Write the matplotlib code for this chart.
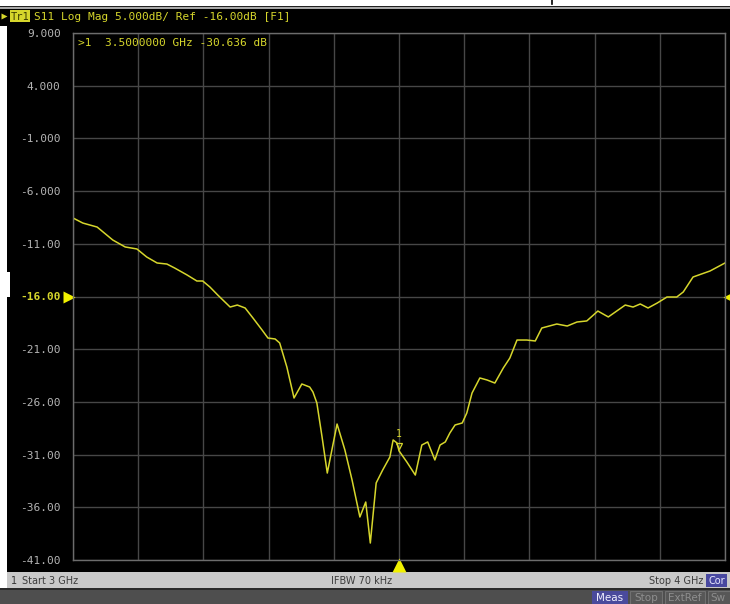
import matplotlib
matplotlib.use("Agg")
import matplotlib.pyplot as plt
import matplotlib.transforms as mtransforms
from matplotlib.patches import Rectangle
import numpy as np

# S11 trace (GHz, dB)
freq_ghz = [3.000, 3.015, 3.037, 3.061, 3.080, 3.098, 3.113, 3.129, 3.144, 3.156,
            3.175, 3.190, 3.199, 3.210, 3.222, 3.241, 3.252, 3.264, 3.276, 3.290,
            3.299, 3.310, 3.317, 3.328, 3.339, 3.351, 3.363, 3.368, 3.374, 3.382,
            3.390, 3.405, 3.417, 3.428, 3.440, 3.449, 3.456, 3.465, 3.475, 3.486,
            3.491, 3.497, 3.500, 3.512, 3.525, 3.535, 3.544, 3.555, 3.563, 3.571,
            3.578, 3.586, 3.597, 3.604, 3.612, 3.624, 3.635, 3.647, 3.660, 3.670,
            3.681, 3.696, 3.709, 3.719, 3.742, 3.758, 3.773, 3.788, 3.805, 3.821,
            3.847, 3.859, 3.870, 3.882, 3.896, 3.911, 3.926, 3.936, 3.951, 3.977,
            4.000]
s11_db = [-8.55, -9.03, -9.41, -10.64, -11.30, -11.49, -12.25, -12.82, -12.92, -13.30,
          -13.96, -14.53, -14.53, -15.10, -15.86, -17.00, -16.81, -17.09, -18.04, -19.18,
          -19.94, -20.03, -20.41, -22.69, -25.63, -24.30, -24.59, -25.06, -26.10, -29.33,
          -32.75, -28.10, -30.56, -33.41, -36.92, -35.50, -39.39, -33.69, -32.46, -31.23,
          -29.61, -29.90, -30.64, -31.70, -32.94, -30.09, -29.80, -31.51, -30.09, -29.80,
          -28.95, -28.19, -28.00, -27.05, -25.16, -23.73, -23.92, -24.21, -22.78, -21.84,
          -20.13, -20.13, -20.22, -18.99, -18.61, -18.80, -18.42, -18.32, -17.38, -17.94,
          -16.81, -17.00, -16.71, -17.09, -16.62, -16.05, -16.05, -15.57, -14.15, -13.58,
          -12.82]

start_ghz = 3
stop_ghz = 4
ref_level = -16.0
scale_db = 5.0
y_ticks = [9, 4, -1, -6, -11, -16, -21, -26, -31, -36, -41]
y_labels = ["9.000", "4.000", "-1.000", "-6.000", "-11.00", "-16.00",
            "-21.00", "-26.00", "-31.00", "-36.00", "-41.00"]
marker_freq = 3.5
marker_db = -30.636

yellow = "#d6d62c"
mono = "DejaVu Sans Mono"
W, H = 730, 604

fig = plt.figure(figsize=(W / 100, H / 100), dpi=100, facecolor="black")

# background panels in pixel coordinates
bg = fig.add_axes([0, 0, 1, 1], zorder=0)
bg.set_xlim(0, W)
bg.set_ylim(H, 0)
bg.axis("off")


def box(x0, y0, x1, y1, color, ec="none", lw=0):
    bg.add_patch(Rectangle((x0, y0), x1 - x0, y1 - y0, facecolor=color,
                           edgecolor=ec, linewidth=lw))


box(0, 0, W, 6, "white")
box(0, 6, W, 7, "#202020")
box(0, 7, W, 9, "#a8a8a8")
bg.plot([552, 552], [0, 4], color="black", lw=1.2)
box(0, 26, 7, H, "white")
box(7, 272, 10, 297, "white")

# title line
bg.plot(4, 16, marker=">", ms=5, color=yellow, mec="none")
box(10, 10, 30, 22, yellow)
bg.text(20, 16.5, "Tr1", color="#3a3a00", fontsize=7.5, family=mono,
        ha="center", va="center")
bg.text(34, 16.5, f"S11 Log Mag {scale_db:.3f}dB/ Ref {ref_level:.2f}dB [F1]",
        color=yellow, fontsize=8, family=mono, va="center")

# status bar
box(7, 572, W, 588, "#c9c9c9")
box(0, 588, W, 590, "#2a2a2a")
box(0, 590, W, H, "#4e4e4e")
bg.text(11, 580.5, "1", color="#333333", fontsize=7, va="center")
bg.text(22, 580.5, f"Start {start_ghz} GHz", color="#3c3c3c", fontsize=7, va="center")
bg.text(362, 580.5, "IFBW 70 kHz", color="#3c3c3c", fontsize=7, va="center", ha="center")
bg.text(703, 580.5, f"Stop {stop_ghz} GHz", color="#3c3c3c", fontsize=7, va="center", ha="right")
box(706, 574, 727, 587, "#4848a0")
bg.text(716.5, 580.5, "Cor", color="#e8e8ff", fontsize=7, va="center", ha="center")

box(592, 591, 628, H, "#4a4a9c")
bg.text(610, 598, "Meas", color="#f0f0ff", fontsize=7.5, va="center", ha="center")
for x0, x1, lab in [(630, 662, "Stop"), (665, 705, "ExtRef"), (708, 740, "Sw")]:
    box(x0, 591, x1, H + 2, "#575757", ec="#707070", lw=0.8)
    bg.text((x0 + x1) / 2 if lab != "Sw" else x0 + 2, 598, lab, color="#8e8e8e",
            fontsize=7.5, va="center", ha="center" if lab != "Sw" else "left")

# measurement grid
ax = fig.add_axes([73 / W, (H - 560) / H, 652 / W, 527 / H], zorder=1)
ax.set_facecolor("black")
ax.set_xlim(start_ghz, stop_ghz)
ax.set_ylim(min(y_ticks), max(y_ticks))
ax.set_xticks(np.linspace(start_ghz, stop_ghz, 11))
ax.set_yticks(y_ticks)
ax.set_yticklabels(y_labels)
ax.tick_params(axis="x", length=0, labelbottom=False)
ax.tick_params(axis="y", length=0, pad=9, labelcolor="#b4b4b4", labelsize=8)
for lbl in ax.get_yticklabels():
    lbl.set_fontfamily(mono)
    if lbl.get_text() == f"{ref_level:.2f}":
        lbl.set_color(yellow)
        lbl.set_fontweight("bold")
ax.grid(color="#474747", lw=1)
for sp in ax.spines.values():
    sp.set_color("#6c6c6c")
    sp.set_linewidth(1)

ax.plot(freq_ghz, s11_db, color=yellow, lw=1.1)

# reference level arrows
left_off = mtransforms.offset_copy(ax.transData, fig=fig, x=-4, y=0, units="dots")
right_off = mtransforms.offset_copy(ax.transData, fig=fig, x=4, y=0, units="dots")
ax.plot(start_ghz, ref_level, marker=">", ms=9, color="#f0f000", mec="none",
        clip_on=False, transform=left_off)
ax.plot(stop_ghz, ref_level, marker="<", ms=9, color="#f0f000", mec="none",
        clip_on=False, transform=right_off)

# marker 1
down_off = mtransforms.offset_copy(ax.transData, fig=fig, x=0, y=-5, units="dots")
ax.plot(marker_freq, min(y_ticks), marker="^", ms=10, color="#f0f000", mec="none",
        clip_on=False, transform=down_off)
up_off = mtransforms.offset_copy(ax.transData, fig=fig, x=0, y=5, units="dots")
ax.plot(marker_freq, marker_db, marker="v", ms=5, mfc="none", mec=yellow, mew=0.9,
        transform=up_off)
ax.annotate("1", (marker_freq, marker_db), xytext=(0, 12), textcoords="offset points",
            color=yellow, fontsize=7, family=mono, ha="center", va="center")
ax.text((78 - 73) / 652, (560 - 43) / 527,
        f">1  {marker_freq:.7f} GHz {marker_db:.3f} dB",
        transform=ax.transAxes, color=yellow, fontsize=8, family=mono, va="center")

fig.savefig("out.png", dpi=100, facecolor="black")
